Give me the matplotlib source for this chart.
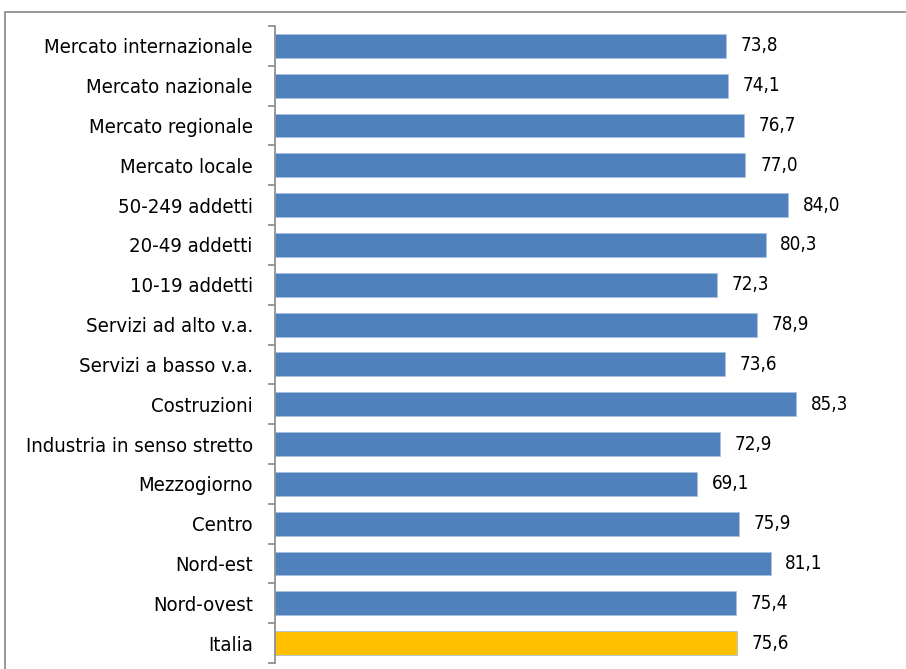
import matplotlib
matplotlib.use("Agg")
import matplotlib.pyplot as plt
from matplotlib.patches import Rectangle
import numpy as np

categories = ["Mercato internazionale", "Mercato nazionale", "Mercato regionale",
              "Mercato locale", "50-249 addetti", "20-49 addetti", "10-19 addetti",
              "Servizi ad alto v.a.", "Servizi a basso v.a.", "Costruzioni",
              "Industria in senso stretto", "Mezzogiorno", "Centro", "Nord-est",
              "Nord-ovest", "Italia"]
values = [73.8, 74.1, 76.7, 77.0, 84.0, 80.3, 72.3, 78.9, 73.6, 85.3,
          72.9, 69.1, 75.9, 81.1, 75.4, 75.6]

blue = "#4F81BD"
yellow = "#FFC000"

plt.rcParams['font.family'] = ['DejaVu Sans']
plt.rcParams['font.stretch'] = 'condensed'

fig = plt.figure(figsize=(9.06, 6.69), dpi=100)
ax = fig.add_axes([275 / 906, 1 - 663 / 669, 611 / 906, (663 - 26) / 669])

pos = np.arange(len(categories))
colors = [yellow if c == "Italia" else blue for c in categories]
ax.barh(pos, values, height=0.6, color=colors, edgecolor="#A9C0E0", linewidth=0.6)

for p, v in zip(pos, values):
    ax.text(v + 2.4, p, f"{v:.1f}".replace(".", ","), va="center", ha="left",
            fontsize=13.5, color="black")

ax.set_xlim(0, 100)
ax.set_ylim(len(categories) - 0.5, -0.5)
ax.set_yticks(pos)
ax.set_yticklabels(categories, fontsize=14.6)
ax.set_yticks(np.arange(len(categories) + 1) - 0.5, minor=True)
ax.tick_params(axis="y", which="major", length=0, pad=16)
ax.tick_params(axis="y", which="minor", length=5, color="#888888", width=1.2)
ax.set_xticks([])
for s in ["top", "right", "bottom"]:
    ax.spines[s].set_visible(False)
ax.spines["left"].set_color("#888888")
ax.spines["left"].set_linewidth(1.2)

# outer frame of the chart area
fig.patches.append(Rectangle((5 / 906, -0.05), 1.0, 1 - 12 / 669 + 0.05,
                             transform=fig.transFigure, fill=False,
                             edgecolor="#888888", linewidth=1.2, clip_on=False))

fig.savefig("out.png", dpi=100)
